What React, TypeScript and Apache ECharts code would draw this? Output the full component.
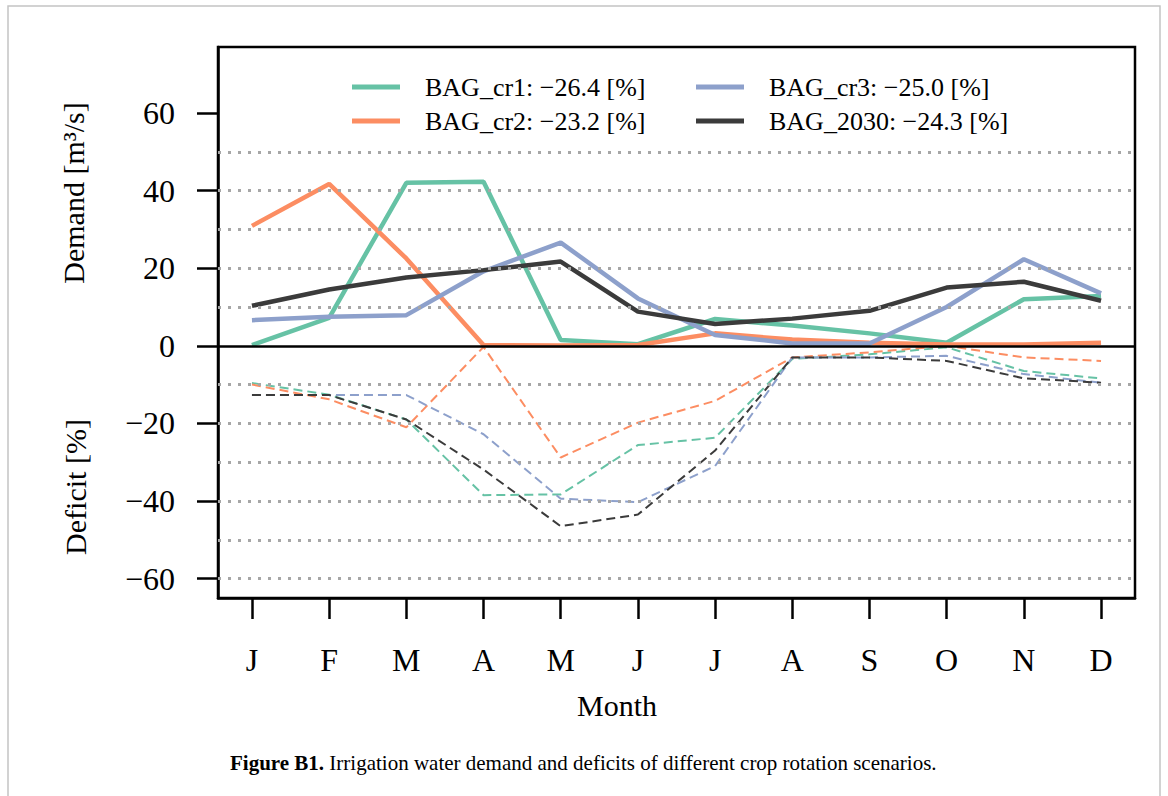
import { useEffect, useRef } from 'react';
import * as echarts from 'echarts';

const months = ['J', 'F', 'M', 'A', 'M', 'J', 'J', 'A', 'S', 'O', 'N', 'D'];
const scenarioLabels = [
  'BAG_cr1: \u221226.4 [%]',
  'BAG_cr2: \u221223.2 [%]',
  'BAG_cr3: \u221225.0 [%]',
  'BAG_2030: \u221224.3 [%]',
];
const colors = ['#66c2a5', '#fc8d62', '#8da0cb', '#3b3b3b'];

// Demand [m3/s]
const demandCr1 = [0.2, 7.2, 42.0, 42.3, 1.5, 0.4, 6.9, 5.2, 3.2, 0.8, 12.0, 12.8];
const demandCr2 = [30.9, 41.7, 22.5, 0.2, 0.1, 0.2, 3.2, 1.6, 0.8, 0.3, 0.3, 0.8];
const demandCr3 = [6.6, 7.5, 7.9, 19.2, 26.6, 12.2, 2.8, 0.6, 0.6, 10.0, 22.3, 13.5];
const demand2030 = [10.3, 14.5, 17.6, 19.5, 21.7, 8.8, 5.6, 7.0, 9.0, 15.0, 16.5, 11.6];

// Deficit [%]
const deficitCr1 = [-9.6, -12.6, -19.0, -38.5, -38.3, -25.6, -23.7, -3.4, -2.2, -0.4, -6.5, -8.4];
const deficitCr2 = [-10.0, -13.8, -21.0, -0.3, -28.8, -19.8, -14.2, -3.0, -1.7, 0.0, -3.0, -3.9];
const deficitCr3 = [-12.7, -12.7, -12.7, -22.8, -39.4, -40.3, -31.0, -3.0, -3.0, -2.6, -7.3, -9.5];
const deficit2030 = [-12.7, -12.7, -19.0, -31.9, -46.5, -43.5, -27.0, -3.0, -3.0, -3.9, -8.4, -9.5];

const yTickValues = [-60, -40, -20, 0, 20, 40, 60];
const gridValues = [-60, -50, -40, -30, -20, -10, 10, 20, 30, 40, 50];

const demandSeries = [demandCr1, demandCr2, demandCr3, demand2030];
const deficitSeries = [deficitCr1, deficitCr2, deficitCr3, deficit2030];

const FONT = 'Liberation Serif';

export default function App() {
  const ref = useRef<HTMLDivElement>(null);

  useEffect(() => {
    if (!ref.current) return;
    const chart = echarts.init(ref.current, null, { renderer: 'svg' });
    const monthIdx = months.map((_, i) => i);
    const toPairs = (arr: number[]) => arr.map((v, i) => [i, v]);

    const series: any[] = [
      {
        type: 'line',
        name: '__grid',
        data: [],
        z: 1,
        silent: true,
        markLine: {
          silent: true,
          symbol: 'none',
          label: { show: false },
          lineStyle: { color: '#a6a6a6', width: 3, type: [3, 7], cap: 'butt' },
          data: gridValues.map((v) => ({ yAxis: v })),
        },
      },
    ];
    demandSeries.forEach((arr, k) => {
      series.push({
        type: 'line',
        name: scenarioLabels[k],
        data: toPairs(arr),
        symbol: 'none',
        z: 3,
        lineStyle: { color: colors[k], width: 4.5 },
        itemStyle: { color: colors[k] },
      });
    });
    deficitSeries.forEach((arr, k) => {
      series.push({
        type: 'line',
        name: scenarioLabels[k] + ' deficit',
        data: toPairs(arr),
        symbol: 'none',
        z: 3,
        lineStyle: { color: colors[k], width: 2, type: [9, 5] },
        itemStyle: { color: colors[k] },
      });
    });
    series.push({
      type: 'line',
      name: '__zero',
      data: [],
      z: 5,
      silent: true,
      markLine: {
        silent: true,
        symbol: 'none',
        label: { show: false },
        lineStyle: { color: '#000', width: 2.5, type: 'solid' },
        data: [{ yAxis: 0 }],
      },
    });

    const legendBase = {
      orient: 'vertical',
      top: 73,
      padding: 0,
      itemWidth: 48,
      itemHeight: 5,
      icon: 'rect',
      itemGap: 6,
      selectedMode: false,
      textStyle: {
        fontSize: 26,
        fontFamily: FONT,
        color: '#000',
        lineHeight: 28,
        padding: [0, 0, 0, 20],
      },
    };

    chart.setOption({
      animation: false,
      backgroundColor: '#fff',
      textStyle: { fontFamily: FONT },
      grid: {
        left: 218,
        top: 47,
        right: 33,
        bottom: 198,
        show: true,
        borderColor: '#000',
        borderWidth: 2.5,
      },
      legend: [
        { ...legendBase, left: 352, data: [scenarioLabels[0], scenarioLabels[1]] },
        { ...legendBase, left: 696, data: [scenarioLabels[2], scenarioLabels[3]] },
      ],
      xAxis: {
        type: 'value',
        min: -0.44,
        max: 11.44,
        axisLine: { show: true, onZero: false, lineStyle: { color: '#000', width: 2.5 } },
        axisTick: {
          show: true,
          customValues: monthIdx,
          length: 21,
          lineStyle: { color: '#000', width: 2.5 },
        },
        axisLabel: {
          customValues: monthIdx,
          formatter: (v: number) => months[Math.round(v)] ?? '',
          fontSize: 32,
          fontFamily: FONT,
          color: '#000',
          margin: 46,
        },
        splitLine: { show: false },
      },
      yAxis: {
        type: 'value',
        min: -65,
        max: 77,
        axisLine: { show: true, onZero: false, lineStyle: { color: '#000', width: 2.5 } },
        axisTick: {
          show: true,
          customValues: yTickValues,
          length: 21,
          lineStyle: { color: '#000', width: 2.5 },
        },
        axisLabel: {
          customValues: yTickValues,
          formatter: (v: number) => (v < 0 ? '\u2212' + Math.abs(v) : String(v)),
          fontSize: 32,
          fontFamily: FONT,
          color: '#000',
          margin: 43,
        },
        splitLine: { show: false },
      },
      graphic: [
        {
          type: 'rect',
          shape: { x: 8, y: 6, width: 1152, height: 820 },
          style: { fill: 'none', stroke: '#c4c4c4', lineWidth: 1.5 },
          silent: true,
        },
        {
          type: 'text',
          x: 73,
          y: 193,
          rotation: Math.PI / 2,
          style: {
            text: 'Demand [m\u00b3/s]',
            fontSize: 30,
            fontFamily: FONT,
            fill: '#000',
            textAlign: 'center',
            textVerticalAlign: 'middle',
            align: 'center',
            verticalAlign: 'middle',
          },
        },
        {
          type: 'text',
          x: 75,
          y: 487,
          rotation: Math.PI / 2,
          style: {
            text: 'Deficit [%]',
            fontSize: 30,
            fontFamily: FONT,
            fill: '#000',
            textAlign: 'center',
            textVerticalAlign: 'middle',
            align: 'center',
            verticalAlign: 'middle',
          },
        },
        {
          type: 'text',
          x: 617,
          y: 705,
          style: {
            text: 'Month',
            fontSize: 30,
            fontFamily: FONT,
            fill: '#000',
            textAlign: 'center',
            textVerticalAlign: 'middle',
            align: 'center',
            verticalAlign: 'middle',
          },
        },
        {
          type: 'text',
          x: 230,
          y: 763,
          style: {
            text: '{b|Figure B1.} Irrigation water demand and deficits of different crop rotation scenarios.',
            fontSize: 21,
            fontFamily: FONT,
            fill: '#000',
            textAlign: 'left',
            textVerticalAlign: 'middle',
            align: 'left',
            verticalAlign: 'middle',
            rich: {
              b: { fontWeight: 'bold', fontSize: 21, fontFamily: FONT, fill: '#000' },
            },
          },
        },
      ],
      series,
    });

    return () => chart.dispose();
  }, []);

  return (
    <div
      ref={ref}
      style={{ position: 'fixed', left: 0, top: 0, width: 1168, height: 796, background: '#fff' }}
    />
  );
}
